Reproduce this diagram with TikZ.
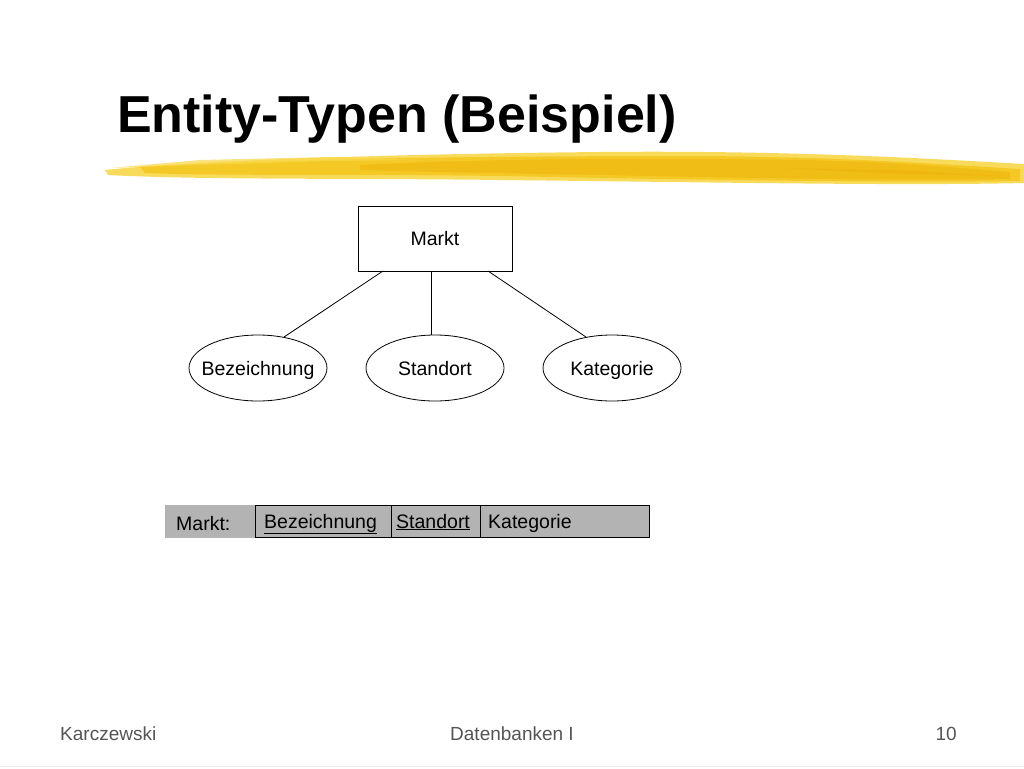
\documentclass[tikz,border=0pt]{standalone}
\usepackage{fontspec}
\setmainfont{Liberation Sans}
\usetikzlibrary{shapes.geometric}
\definecolor{cellgray}{HTML}{B3B3B3}
\definecolor{footgray}{HTML}{555555}
\definecolor{brushA}{HTML}{F5C518}
\definecolor{brushB}{HTML}{F9D84A}
\definecolor{brushC}{HTML}{EDB40C}
\begin{document}
\begin{tikzpicture}[x=1pt,y=-1pt,
  txt/.style={font=\fontsize{19.5}{22}\selectfont},
  entity/.style={draw,line width=0.8pt,minimum width=154pt,minimum height=65pt,inner sep=0pt,txt,text height=18pt,text depth=4pt},
  attr/.style={draw,ellipse,line width=0.8pt,minimum width=138pt,minimum height=66pt,inner xsep=-10pt,inner ysep=0pt,txt,text height=18pt,text depth=4pt},
  conn/.style={line width=0.8pt},
  cell/.style={draw,line width=0.9pt,fill=cellgray,minimum height=32pt,inner sep=0pt,anchor=north west},
  foot/.style={text=footgray,font=\fontsize{19}{22}\selectfont}]
\useasboundingbox (0,0) rectangle (1024,768);
\fill[white] (0,0) rectangle (1024,768);
% title
\node[anchor=base west,inner sep=0pt,font=\bfseries\fontsize{52}{60}\selectfont] (title) at (117,132) {Entity-Typen (Beispiel)};
% brush stroke
\fill[brushB,opacity=0.9] (105,170) .. controls (200,160) and (400,154) .. (600,152) .. controls (800,150) and (950,160) .. (1024,164) -- (1024,183) .. controls (900,186) and (700,182) .. (500,180) .. controls (350,178) and (200,180) .. (108,175) -- cycle;
\fill[brushA,opacity=0.8] (140,167) .. controls (300,158) and (500,156) .. (700,156) .. controls (850,157) and (950,165) .. (1020,169) -- (1020,181) .. controls (900,183) and (700,180) .. (500,176) .. controls (350,174) and (220,176) .. (145,173) -- cycle;
\fill[brushC,opacity=0.6] (360,165) .. controls (500,158) and (650,158) .. (800,160) .. controls (900,162) and (960,168) .. (1010,172) -- (1010,179) .. controls (900,181) and (750,178) .. (600,175) .. controls (500,173) and (420,172) .. (360,170) -- cycle;
\fill[brushB,opacity=0.7] (110,168) -- (200,160) -- (330,157) -- (420,160) -- (330,161) -- (200,165) -- cycle;
\fill[brushC,opacity=0.5] (780,168) -- (900,170) -- (1000,176) -- (900,174) -- cycle;
% ER diagram
\node[entity] (markt) at (435,238.5) {Markt};
\node[attr] (bez) at (258,368) {Bezeichnung};
\node[attr] (sta) at (435,368) {Standort};
\node[attr] (kat) at (612,368) {Kategorie};
\coordinate (m1) at (383,271);
\coordinate (m2) at (431,271);
\coordinate (m3) at (488,271);
\draw[conn] (m1) -- (bez.50);
\draw[conn] (m2) -- (m2 |- sta.north);
\draw[conn] (m3) -- (kat.130);
% relation schema
\node[fill=cellgray,minimum width=90pt,minimum height=33pt,inner sep=0pt,anchor=north west] (rel) at (165,505) {};
\node[cell,minimum width=136pt] (c1) at (255,505) {};
\node[cell,minimum width=89pt] (c2) at (391,505) {};
\node[cell,minimum width=169pt] (c3) at (480,505) {};
\node[anchor=base west,inner sep=0pt,txt] (t0) at (176,530) {Markt:};
\node[anchor=base west,inner sep=0pt,txt] (t1) at (264,528) {\underline{Bezeichnung}};
\node[anchor=base west,inner sep=0pt,txt] (t2) at (396,528) {\underline{Standort}};
\node[anchor=base west,inner sep=0pt,txt] (t3) at (488,528) {Kategorie};
% footer
\node[foot,anchor=base west,inner sep=0pt] (f1) at (60,740) {Karczewski};
\node[foot,anchor=base,inner sep=0pt] (f2) at (512,740) {Datenbanken I};
\node[foot,anchor=base east,inner sep=0pt] (f3) at (957,740) {10};
\draw[black!8,line width=1pt] (0,766) -- (1024,766);
\end{tikzpicture}
\end{document}
